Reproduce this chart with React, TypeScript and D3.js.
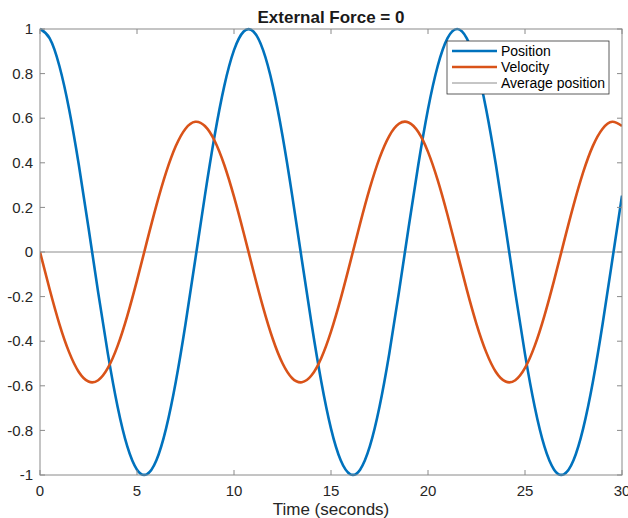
import React, { useEffect, useRef } from "react";
import * as d3 from "d3";

// time samples (s), every 0.5 s
const time = d3.range(0, 30.001, 0.5);

const position = [
  1.0, 0.958, 0.834, 0.64, 0.391, 0.109, -0.182, -0.457, -0.694, -0.872,
  -0.976, -0.997, -0.934, -0.791, -0.582, -0.323, -0.036, 0.253, 0.521, 0.745,
  0.905, 0.989, 0.989, 0.905, 0.745, 0.521, 0.253, -0.037, -0.323, -0.582,
  -0.792, -0.934, -0.997, -0.976, -0.872, -0.694, -0.457, -0.181, 0.11, 0.391,
  0.64, 0.834, 0.958, 1.0, 0.958, 0.834, 0.639, 0.391, 0.109, -0.182,
  -0.458, -0.694, -0.872, -0.976, -0.997, -0.934, -0.791, -0.582, -0.323, -0.036,
  0.253,
];

const velocity = [
  0.0, -0.168, -0.323, -0.449, -0.538, -0.581, -0.575, -0.52, -0.421, -0.286,
  -0.127, 0.043, 0.209, 0.357, 0.475, 0.553, 0.584, 0.565, 0.499, 0.39,
  0.248, 0.085, -0.085, -0.248, -0.39, -0.499, -0.566, -0.584, -0.553, -0.475,
  -0.357, -0.209, -0.043, 0.127, 0.286, 0.421, 0.52, 0.575, 0.581, 0.538,
  0.449, 0.322, 0.168, 0.0, -0.169, -0.323, -0.449, -0.538, -0.581, -0.575,
  -0.52, -0.421, -0.286, -0.127, 0.043, 0.209, 0.358, 0.476, 0.553, 0.584,
  0.565,
];

const xTicks = [0, 5, 10, 15, 20, 25, 30];
const yTicks = [-1, -0.8, -0.6, -0.4, -0.2, 0, 0.2, 0.4, 0.6, 0.8, 1];
const legendItems = [
  { label: "Position", color: "#0072BD", width: 2.6 },
  { label: "Velocity", color: "#D95319", width: 2.6 },
  { label: "Average position", color: "#8c8c8c", width: 1 },
];

const W = 628;
const H = 518;
const margin = { top: 29, right: 6, bottom: 43, left: 40 };
const font = "'Liberation Sans', Arial, Helvetica, sans-serif";
const axisColor = "#8a8a8a";
const textColor = "#262626";

export default function App() {
  const ref = useRef<SVGSVGElement>(null);

  useEffect(() => {
    const svg = d3.select(ref.current);
    svg.selectAll("*").remove();

    const x = d3.scaleLinear().domain([0, 30]).range([margin.left, W - margin.right]);
    const y = d3.scaleLinear().domain([-1, 1]).range([H - margin.bottom, margin.top]);
    const [x0, x1] = x.range();
    const [y0, y1] = y.range();

    svg.append("rect")
      .attr("x", x0).attr("y", y1)
      .attr("width", x1 - x0).attr("height", y0 - y1)
      .attr("fill", "#fff");

    // average position line at 0
    svg.append("line")
      .attr("x1", x0).attr("x2", x1)
      .attr("y1", y(0)).attr("y2", y(0))
      .attr("stroke", "#8c8c8c")
      .attr("stroke-width", 1);

    const clip = svg.append("clipPath").attr("id", "plotclip");
    clip.append("rect")
      .attr("x", x0).attr("y", y1 - 2)
      .attr("width", x1 - x0).attr("height", y0 - y1 + 4);

    const line = (vals: number[]) =>
      d3.line<number>()
        .x((_, i) => x(time[i]))
        .y(d => y(d))
        .curve(d3.curveNatural)(vals);

    svg.append("path")
      .attr("d", line(position))
      .attr("fill", "none")
      .attr("stroke", "#0072BD")
      .attr("stroke-width", 2.6)
      .attr("clip-path", "url(#plotclip)");

    svg.append("path")
      .attr("d", line(velocity))
      .attr("fill", "none")
      .attr("stroke", "#D95319")
      .attr("stroke-width", 2.6)
      .attr("clip-path", "url(#plotclip)");

    // box
    svg.append("rect")
      .attr("x", x0).attr("y", y1)
      .attr("width", x1 - x0).attr("height", y0 - y1)
      .attr("fill", "none")
      .attr("stroke", axisColor)
      .attr("stroke-width", 1);

    const tl = 5;
    xTicks.forEach(t => {
      svg.append("line").attr("x1", x(t)).attr("x2", x(t)).attr("y1", y0).attr("y2", y0 - tl)
        .attr("stroke", axisColor);
      svg.append("line").attr("x1", x(t)).attr("x2", x(t)).attr("y1", y1).attr("y2", y1 + tl)
        .attr("stroke", axisColor);
      svg.append("text")
        .attr("x", x(t)).attr("y", y0 + 21)
        .attr("text-anchor", "middle")
        .style("font", `15px ${font}`)
        .attr("fill", textColor)
        .text(t);
    });

    yTicks.forEach(t => {
      svg.append("line").attr("x1", x0).attr("x2", x0 + tl).attr("y1", y(t)).attr("y2", y(t))
        .attr("stroke", axisColor);
      svg.append("line").attr("x1", x1).attr("x2", x1 - tl).attr("y1", y(t)).attr("y2", y(t))
        .attr("stroke", axisColor);
      svg.append("text")
        .attr("x", x0 - 7).attr("y", y(t))
        .attr("dy", "0.35em")
        .attr("text-anchor", "end")
        .style("font", `15px ${font}`)
        .attr("fill", textColor)
        .text(String(+t.toFixed(1)));
    });

    // title + x label
    svg.append("text")
      .attr("x", (x0 + x1) / 2).attr("y", 23)
      .attr("text-anchor", "middle")
      .style("font", `bold 17px ${font}`)
      .attr("fill", "#1a1a1a")
      .text("External Force = 0");

    svg.append("text")
      .attr("x", (x0 + x1) / 2).attr("y", 515)
      .attr("text-anchor", "middle")
      .style("font", `17px ${font}`)
      .attr("fill", textColor)
      .text("Time (seconds)");

    // legend
    const lg = svg.append("g").attr("transform", "translate(447,41)");
    lg.append("rect")
      .attr("width", 162).attr("height", 53)
      .attr("fill", "#fff")
      .attr("stroke", "#262626")
      .attr("stroke-width", 0.75);
    legendItems.forEach((d, i) => {
      const yy = 10 + i * 16;
      lg.append("line")
        .attr("x1", 5).attr("x2", 50)
        .attr("y1", yy).attr("y2", yy)
        .attr("stroke", d.color)
        .attr("stroke-width", d.width);
      lg.append("text")
        .attr("x", 54).attr("y", yy)
        .attr("dy", "0.35em")
        .style("font", `14px ${font}`)
        .attr("fill", "#000")
        .text(d.label);
    });
  }, []);

  return (
    <svg
      ref={ref}
      width={W}
      height={H}
      style={{ position: "absolute", left: 0, top: 0, background: "#fff" }}
    />
  );
}
